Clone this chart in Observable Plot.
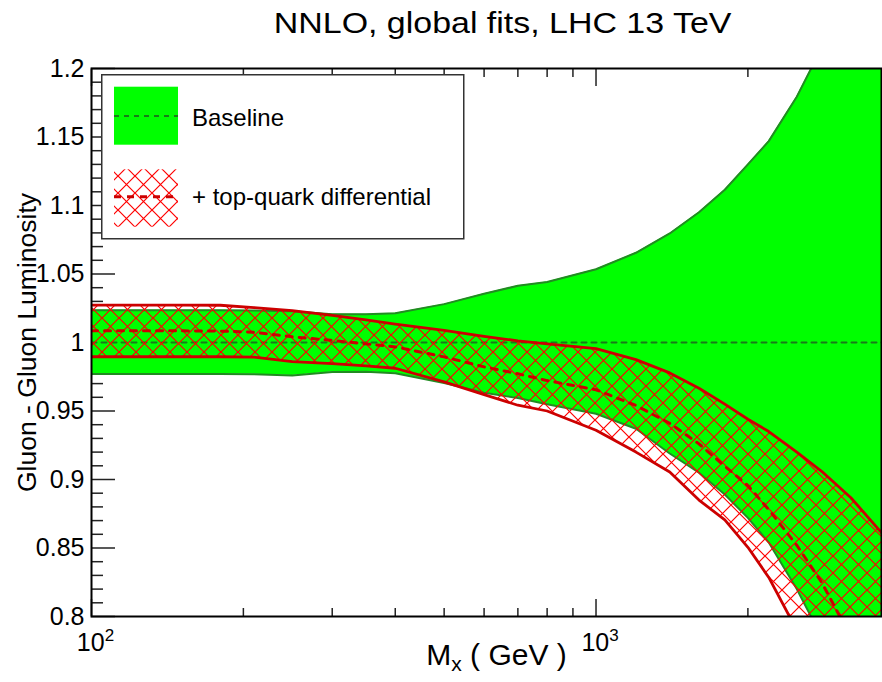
<!DOCTYPE html>
<html>
<head>
<meta charset="utf-8">
<script src="https://cdn.jsdelivr.net/npm/d3@7"></script>
<script src="https://cdn.jsdelivr.net/npm/@observablehq/plot@0.6"></script>
<style>
  body { margin: 0; background: white; }
  #wrap { position: relative; width: 882px; height: 682px; font-family: "Liberation Sans", Arial, Helvetica, sans-serif; }
  #title { width: 882px; height: 46px; line-height: 46px; font-size: 29px; text-align: center; color: #000; }
  #title span { display: inline-block; transform: translateX(62px) scaleX(1.17); }
  #legend { position: absolute; left: 101px; top: 74px; }
</style>
</head>
<body>
<svg width="0" height="0" style="position:absolute">
  <defs>
    <pattern id="hatch" patternUnits="userSpaceOnUse" width="17" height="17">
      <path d="M0,0L17,17M17,0L0,17M-1,16L1,18M16,-1L18,1M-1,1L1,-1M16,18L18,16" stroke="#ff0000" stroke-width="1.2" fill="none"/>
    </pattern>
  </defs>
</svg>
<div id="wrap">
  <div id="title"><span>NNLO, global fits, LHC 13 TeV</span></div>
  <div id="chart"></div>
  <svg id="legend" width="364" height="166">
    <rect x="0.75" y="0.75" width="362" height="164" fill="white" stroke="#333" stroke-width="1.5"/>
    <rect x="13" y="12.7" width="64" height="58" fill="#00ff00"/>
    <line x1="13" x2="77" y1="42" y2="42" stroke="#1a7a1a" stroke-width="2" stroke-dasharray="5,5"/>
    <text x="91" y="51.5" font-size="24" fill="#000">Baseline</text>
    <rect x="13" y="95.3" width="64" height="57.4" fill="url(#hatch)"/>
    <line x1="13" x2="77" y1="122.7" y2="122.7" stroke="#cc0000" stroke-width="3" stroke-dasharray="7,6"/>
    <text x="91" y="131" font-size="24" fill="#000">+ top-quark differential</text>
  </svg>
</div>
<script>
// Invariant mass M_X (GeV)
const mass    = [100, 120, 150, 180, 210, 250, 300, 350, 400, 500, 600, 700, 800, 1000, 1200, 1400, 1600, 1800, 2000, 2200, 2500, 2800, 3200, 3700];
// Baseline band (ratio to baseline central)
const baseHi  = [1.0235, 1.0235, 1.0235, 1.0235, 1.0233, 1.0228, 1.0207, 1.0207, 1.0214, 1.0280, 1.0356, 1.0414, 1.0441, 1.0535, 1.0655, 1.0796, 1.0951, 1.1115, 1.1300, 1.1470, 1.1794, 1.2150, 1.2700, 1.3400];
const baseLo  = [0.9770, 0.9770, 0.9770, 0.9770, 0.9768, 0.9760, 0.9785, 0.9787, 0.9775, 0.9705, 0.9634, 0.9595, 0.9550, 0.9480, 0.9370, 0.9190, 0.9050, 0.8890, 0.8720, 0.8540, 0.8200, 0.7850, 0.7400, 0.6900];
const baseMid = [1, 1, 1, 1, 1, 1, 1, 1, 1, 1, 1, 1, 1, 1, 1, 1, 1, 1, 1, 1, 1, 1, 1, 1];
// + top-quark differential band
const topHi   = [1.0273, 1.0273, 1.0273, 1.0272, 1.0255, 1.0232, 1.0198, 1.0165, 1.0134, 1.0088, 1.0045, 1.0012, 0.9990, 0.9955, 0.9875, 0.9778, 0.9666, 0.9550, 0.9440, 0.9350, 0.9200, 0.9060, 0.8867, 0.8602];
const topLo   = [0.9896, 0.9896, 0.9896, 0.9896, 0.9893, 0.9861, 0.9846, 0.9830, 0.9812, 0.9712, 0.9620, 0.9542, 0.9500, 0.9360, 0.9200, 0.9055, 0.8850, 0.8705, 0.8505, 0.8285, 0.7900, 0.7500, 0.7000, 0.6400];
const topMid  = [1.0085, 1.0085, 1.0085, 1.0083, 1.0075, 1.0042, 1.0015, 0.9990, 0.9968, 0.9895, 0.9822, 0.9772, 0.9722, 0.9655, 0.9540, 0.9410, 0.9260, 0.9097, 0.8956, 0.8780, 0.8520, 0.8250, 0.7850, 0.7250];

// Axis ticks
const yMajor = [0.8, 0.85, 0.9, 0.95, 1, 1.05, 1.1, 1.15, 1.2];
const yMinor = [0.81, 0.82, 0.83, 0.84, 0.86, 0.87, 0.88, 0.89, 0.91, 0.92, 0.93, 0.94, 0.96, 0.97, 0.98, 0.99,
                1.01, 1.02, 1.03, 1.04, 1.06, 1.07, 1.08, 1.09, 1.11, 1.12, 1.13, 1.14, 1.16, 1.17, 1.18, 1.19];
const xMajor = [100, 1000];
const xMinor = [200, 300, 400, 500, 600, 700, 800, 900, 2000, 3000];
const xTickBase = ["10", "10"];
const xTickExp = ["2", "3"];
const xTitle = "Mx ( GeV )";
const yTitle = "Gluon - Gluon Luminosity";

const baseline = mass.map((m, i) => ({m, hi: baseHi[i], lo: baseLo[i], mid: baseMid[i]}));
const topq = mass.map((m, i) => ({m, hi: topHi[i], lo: topLo[i], mid: topMid[i]}));

const tickStroke = "#222";
const chart = Plot.plot({
  width: 882,
  height: 636,
  marginTop: 22,
  marginBottom: 66,
  marginLeft: 91,
  marginRight: 1,
  style: {fontFamily: "'Liberation Sans', Arial, Helvetica, sans-serif", fontSize: "25px", color: "black", background: "white", overflow: "visible"},
  x: {type: "log", domain: [100, 3680]},
  y: {domain: [0.8, 1.2]},
  marks: [
    // tick marks (drawn inward, under the bands)
    Plot.axisY(yMajor, {anchor: "left", tickSize: 24, dx: 24, fill: "none", label: null, stroke: tickStroke, strokeWidth: 1.5}),
    Plot.axisY(yMinor, {anchor: "left", tickSize: 12, dx: 12, fill: "none", label: null, stroke: tickStroke, strokeWidth: 1.5}),
    Plot.axisX(xMajor, {anchor: "bottom", tickSize: 17, dy: -17, fill: "none", label: null, stroke: tickStroke, strokeWidth: 1.5}),
    Plot.axisX(xMinor, {anchor: "bottom", tickSize: 8, dy: -8, fill: "none", label: null, stroke: tickStroke, strokeWidth: 1.5}),
    Plot.axisX(xMajor, {anchor: "top", tickSize: 17, dy: 17, fill: "none", label: null, stroke: tickStroke, strokeWidth: 1.5}),
    Plot.axisX(xMinor, {anchor: "top", tickSize: 8, dy: 8, fill: "none", label: null, stroke: tickStroke, strokeWidth: 1.5}),
    // baseline band
    Plot.areaY(baseline, {x: "m", y1: "lo", y2: "hi", fill: "#00ff00", clip: true}),
    Plot.lineY(baseline, {x: "m", y: "hi", stroke: "#228b22", strokeWidth: 2, clip: true}),
    Plot.lineY(baseline, {x: "m", y: "lo", stroke: "#228b22", strokeWidth: 2, clip: true}),
    Plot.lineY(baseline, {x: "m", y: "mid", stroke: "#1a7a1a", strokeWidth: 2, strokeDasharray: "5,5", clip: true}),
    // top-quark band
    Plot.areaY(topq, {x: "m", y1: "lo", y2: "hi", fill: "url(#hatch)", clip: true}),
    Plot.lineY(topq, {x: "m", y: "hi", stroke: "#cc0000", strokeWidth: 2.8, clip: true}),
    Plot.lineY(topq, {x: "m", y: "lo", stroke: "#cc0000", strokeWidth: 2.8, clip: true}),
    Plot.lineY(topq, {x: "m", y: "mid", stroke: "#cc0000", strokeWidth: 3, strokeDasharray: "6,7", clip: true}),
    // frame
    Plot.frame({stroke: "black", strokeWidth: 2}),
    // tick labels
    Plot.axisY(yMajor, {anchor: "left", tickSize: 0, tickPadding: 7, tickFormat: d => String(d), label: null}),
    Plot.axisX(xMajor, {anchor: "bottom", tickSize: 0, tickPadding: 18, tickFormat: d => xTickBase[xMajor.indexOf(d)] + "^" + xTickExp[xMajor.indexOf(d)], label: null}),
    // axis titles
    Plot.text([yTitle], {frameAnchor: "left", text: d => d, rotate: -90, dx: -64, fontSize: 26.5, textAnchor: "middle"}),
    Plot.text([xTitle], {frameAnchor: "bottom", text: d => d, dx: 10, dy: 48, fontSize: 30})
  ]
});
document.getElementById("chart").appendChild(chart);

const ns = "http://www.w3.org/2000/svg";
function span(text, attrs) {
  const s = document.createElementNS(ns, "tspan");
  s.textContent = text;
  for (const k in attrs) s.setAttribute(k, attrs[k]);
  return s;
}
chart.querySelectorAll("text").forEach(t => {
  const txt = t.textContent;
  if (txt === xTitle) {
    // subscript for M_x
    while (t.firstChild) t.removeChild(t.firstChild);
    t.appendChild(span("M", {}));
    t.appendChild(span("x", {"font-size": "21", dy: "6"}));
    t.appendChild(span(" ( GeV )", {dy: "-6"}));
  } else if (/^10\^\d$/.test(txt)) {
    // superscript exponent for decade labels
    const [b, e] = txt.split("^");
    while (t.firstChild) t.removeChild(t.firstChild);
    t.appendChild(span(b, {}));
    t.appendChild(span(e, {"font-size": "17", dy: "-10"}));
    t.setAttribute("transform", (t.getAttribute("transform") || "") + " translate(4,-1)");
  }
});
</script>
</body>
</html>
